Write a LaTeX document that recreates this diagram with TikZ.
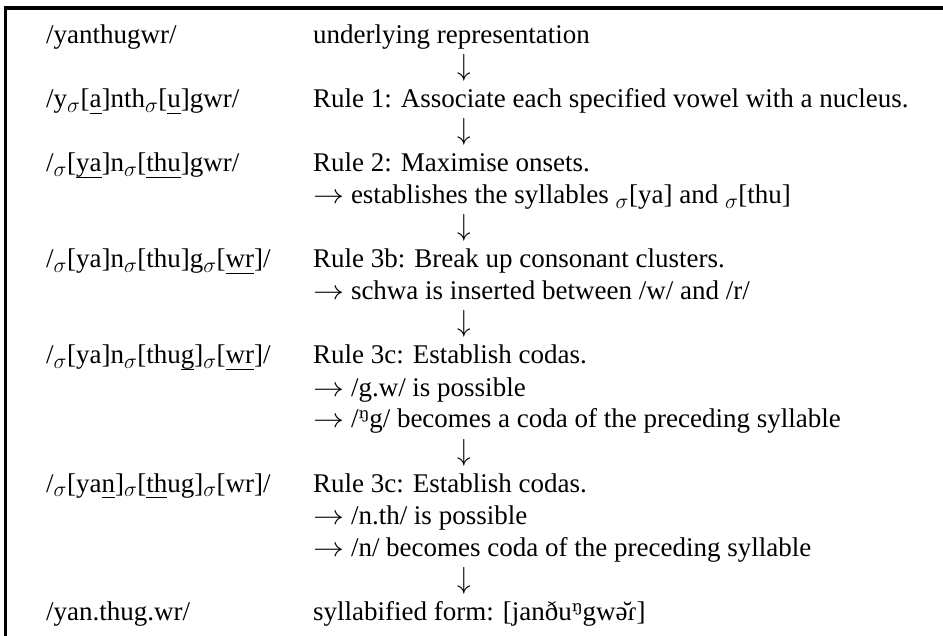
\RequirePackage{fix-cm}
\documentclass[tikz,border=0pt]{standalone}
\usepackage{graphicx}
\usepackage{fontspec}
\setmainfont{Liberation Serif}
\newfontfamily\ipafont{DejaVu Serif}
\newcommand{\fs}{\fontsize{27}{32}\selectfont}
\newcommand{\undl}[1]{\setbox0\hbox{#1}\rlap{\rule[-6pt]{\wd0}{1.3pt}}\box0}
\newcommand{\sg}{{\fontsize{31}{32}\selectfont$_\sigma$}}
\newcommand{\ra}{\scalebox{1.15}[1]{$\rightarrow$}\ }
\newcommand{\da}{\smash{\scalebox{1}[1.13]{$\downarrow$}}}
\begin{document}
\begin{tikzpicture}[x=1pt,y=-1pt,
  txt/.style={anchor=base west,inner sep=0pt,font=\fs},
  dn/.style={anchor=base,inner sep=0pt,font=\fs}]
\useasboundingbox (0,0) rectangle (943,636);
\draw[line width=3.5pt] (5.5,636) -- (5.5,8) -- (943,8);
% left column
\node[txt] (l1) at (46,44)  {/yanthugwr/};
\node[txt] (l2) at (46,108) {/y\sg[\undl{a}]nth\sg[\undl{u}]gwr/};
\node[txt] (l3) at (46,172) {/\sg[\undl{ya}]n\sg[\undl{thu}]gwr/};
\node[txt] (l4) at (46,268) {/\sg[ya]n\sg[thu]g\sg[\undl{wr}]/};
\node[txt] (l5) at (46,364) {/\sg[ya]n\sg[thu\undl{g}]\sg[\undl{wr}]/};
\node[txt] (l6) at (46,492) {/\sg[ya\undl{n}]\sg[\undl{th}ug]\sg[wr]/};
\node[txt] (l7) at (46,620) {/yan.thug.wr/};
% right column
\node[txt] (r1)  at (313,44)  {underlying representation};
\node[dn]  (a1)  at (464,76)  {\da};
\node[txt] (r3)  at (313,108) {Rule 1: Associate each specified vowel with a nucleus.};
\node[dn]  (a2)  at (464,140) {\da};
\node[txt] (r5)  at (313,172) {Rule 2: Maximise onsets.};
\node[txt] (r6)  at (313,204) {\ra establishes the syllables \sg[ya] and \sg[thu]};
\node[dn]  (a3)  at (464,236) {\da};
\node[txt] (r8)  at (313,268) {Rule 3b: Break up consonant clusters.};
\node[txt] (r9)  at (313,300) {\ra schwa is inserted between /w/ and /r/};
\node[dn]  (a4)  at (464,332) {\da};
\node[txt] (r11) at (313,364) {Rule 3c: Establish codas.};
\node[txt] (r12) at (313,396) {\ra /g.w/ is possible};
\node[txt] (r13) at (313,428) {\ra /{\ipafont ᵑ}g/ becomes a coda of the preceding syllable};
\node[dn]  (a5)  at (464,460) {\da};
\node[txt] (r15) at (313,492) {Rule 3c: Establish codas.};
\node[txt] (r16) at (313,524) {\ra /n.th/ is possible};
\node[txt] (r17) at (313,556) {\ra /n/ becomes coda of the preceding syllable};
\node[dn]  (a6)  at (464,588) {\da};
\node[txt] (r19) at (313,620) {syllabified form: [janðu{\ipafont ᵑ}gwə̆ɾ]};
\end{tikzpicture}
\end{document}
